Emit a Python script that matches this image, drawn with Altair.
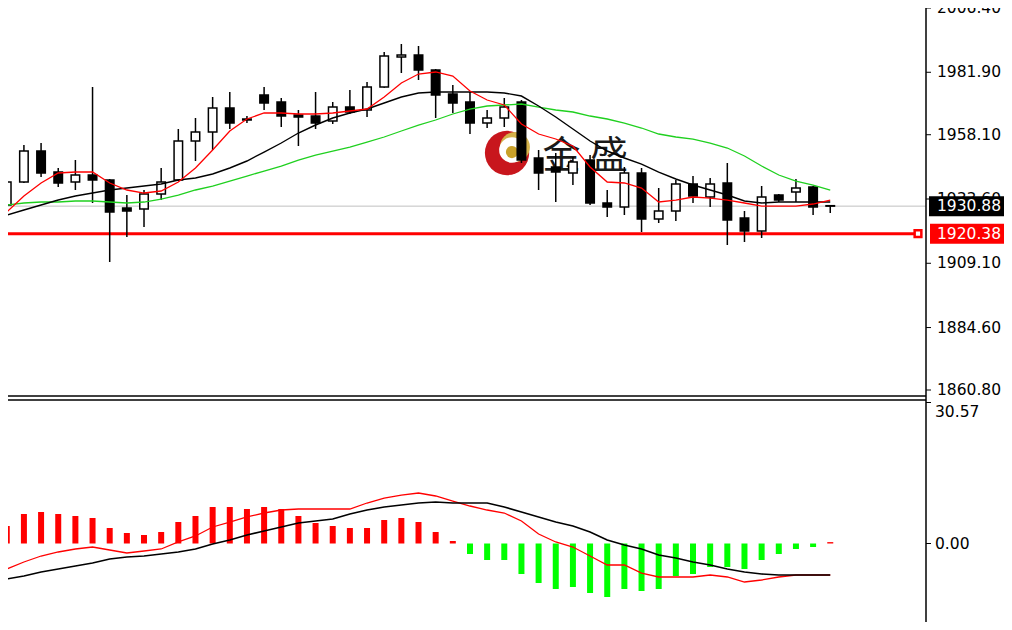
import altair as alt
import pandas as pd

# ---------------- data ----------------
idx = list(range(49))

opens = [1931.31, 1940.08, 1951.90, 1943.89, 1940.08, 1942.75, 1940.84, 1930.17, 1929.79, 1935.51,
         1940.84, 1955.71, 1959.14, 1968.29, 1964.09, 1973.24, 1970.57, 1965.62, 1965.24, 1963.33,
         1968.67, 1967.52, 1976.29, 1987.73, 1988.49, 1982.77, 1973.62, 1970.57, 1962.57, 1964.48,
         1970.57, 1949.23, 1945.80, 1943.51, 1948.47, 1932.08, 1930.55, 1943.51, 1925.98, 1929.03,
         1939.32, 1934.36, 1939.70, 1926.36, 1921.40, 1935.13, 1936.27, 1938.18, 1931.05]
highs = [1946.18, 1954.18, 1954.95, 1945.42, 1948.47, 1976.29, 1941.22, 1935.13, 1937.03, 1945.42,
         1960.28, 1964.48, 1972.48, 1974.39, 1965.24, 1976.29, 1972.10, 1967.52, 1974.39, 1970.57,
         1975.15, 1978.20, 1989.63, 1992.68, 1991.92, 1983.15, 1977.05, 1974.39, 1967.52, 1972.10,
         1971.34, 1952.28, 1951.13, 1949.61, 1950.37, 1937.03, 1945.80, 1945.42, 1937.79, 1940.84,
         1942.37, 1941.61, 1947.32, 1929.03, 1938.56, 1935.51, 1941.22, 1938.56, 1931.31]
lows = [1927.50, 1939.70, 1941.99, 1938.18, 1937.03, 1932.08, 1909.59, 1919.12, 1922.93, 1933.22,
        1940.46, 1948.09, 1952.28, 1960.28, 1962.57, 1967.52, 1961.05, 1953.80, 1960.28, 1962.19,
        1966.00, 1964.86, 1976.00, 1981.63, 1978.96, 1964.48, 1966.38, 1958.38, 1960.66, 1961.05,
        1947.32, 1937.03, 1932.46, 1938.94, 1931.31, 1926.74, 1927.50, 1921.02, 1924.45, 1925.22,
        1932.08, 1930.55, 1916.07, 1917.21, 1918.74, 1932.46, 1932.46, 1927.50, 1928.27]
closes = [1940.08, 1951.90, 1943.51, 1939.70, 1942.75, 1940.84, 1928.65, 1929.03, 1935.51, 1940.08,
          1955.71, 1959.14, 1968.29, 1962.57, 1963.71, 1970.19, 1965.24, 1964.86, 1962.57, 1968.67,
          1966.76, 1976.29, 1988.11, 1988.49, 1982.77, 1973.24, 1970.19, 1962.57, 1964.48, 1968.67,
          1948.47, 1943.51, 1943.89, 1947.70, 1932.08, 1930.55, 1943.51, 1925.98, 1929.03, 1939.32,
          1934.74, 1939.32, 1925.60, 1921.40, 1934.36, 1933.22, 1937.79, 1930.55, 1930.88]

ma_red = [1928.64, 1934.74, 1939.70, 1943.51, 1943.89, 1943.89, 1939.70, 1937.03, 1935.88, 1936.65,
          1940.08, 1945.41, 1952.27, 1959.52, 1964.09, 1966.38, 1966.38, 1966.00, 1966.00, 1966.38,
          1967.14, 1967.90, 1972.48, 1977.81, 1981.24, 1982.01, 1980.48, 1974.76, 1971.33, 1969.43,
          1962.18, 1958.37, 1956.47, 1953.80, 1945.79, 1940.08, 1939.70, 1937.78, 1932.45, 1933.21,
          1934.36, 1933.97, 1933.21, 1932.07, 1930.92, 1930.92, 1930.92, 1931.69, 1933.21]
ma_black = [1927.49, 1929.40, 1931.30, 1933.21, 1934.74, 1935.88, 1937.03, 1937.78, 1938.55, 1939.31,
            1940.83, 1941.60, 1943.12, 1945.41, 1948.08, 1951.51, 1954.94, 1958.75, 1961.80, 1964.47,
            1966.38, 1967.90, 1970.19, 1972.48, 1974.00, 1974.38, 1974.38, 1974.38, 1974.38, 1974.00,
            1972.85, 1969.04, 1964.85, 1960.28, 1955.70, 1951.89, 1949.22, 1946.93, 1943.88, 1941.22,
            1938.93, 1937.03, 1935.12, 1932.83, 1932.07, 1932.45, 1932.45, 1932.45, 1932.45]
ma_green = [1931.30, 1932.07, 1932.45, 1932.45, 1932.83, 1932.83, 1932.45, 1932.07, 1932.45, 1933.59,
            1935.12, 1937.03, 1938.55, 1940.45, 1942.36, 1944.26, 1946.17, 1948.46, 1950.36, 1951.89,
            1953.41, 1955.32, 1957.23, 1959.52, 1961.80, 1963.71, 1966.00, 1967.90, 1969.04, 1969.43,
            1969.81, 1968.66, 1967.52, 1966.76, 1965.23, 1964.09, 1962.56, 1960.66, 1958.37, 1957.23,
            1956.46, 1954.94, 1953.03, 1949.98, 1946.17, 1942.74, 1940.45, 1938.93, 1937.03]

hist = [3.79, 6.40, 6.83, 6.40, 5.96, 5.53, 3.36, 2.28, 1.84, 2.49,
        4.66, 5.96, 7.91, 7.91, 7.48, 7.91, 7.48, 5.96, 4.44, 3.79,
        3.36, 3.36, 5.09, 5.53, 4.66, 2.49, 0.54, -2.28, -3.58, -3.58,
        -6.61, -8.56, -9.86, -9.43, -10.73, -11.60, -9.86, -10.30, -9.86, -7.05,
        -6.61, -5.09, -5.09, -5.53, -3.58, -2.28, -1.19, -0.76, 0.30]
macd_red = [-5.53, -4.01, -2.71, -1.84, -1.19, -0.76, -1.41, -2.06, -1.63, -1.19,
            0.33, 1.63, 3.58, 4.66, 5.75, 6.61, 7.26, 7.48, 7.48, 7.48,
            7.48, 8.78, 9.86, 10.51, 10.95, 10.30, 9.21, 8.13, 7.26, 6.61,
            4.88, 2.06, 0.33, -0.76, -2.71, -4.66, -4.66, -6.40, -7.26, -7.26,
            -7.26, -6.83, -7.26, -8.35, -7.91, -7.26, -6.83, -6.83, -6.83]
macd_black = [-7.70, -7.05, -6.18, -5.53, -4.88, -4.23, -3.36, -2.93, -2.71, -2.28,
              -1.84, -1.19, -0.11, 0.76, 1.84, 2.71, 3.58, 4.44, 4.88, 5.31,
              6.40, 7.26, 7.91, 8.35, 8.78, 9.00, 8.78, 8.78, 8.78, 7.91,
              6.83, 5.75, 4.66, 3.79, 2.49, 0.76, -0.33, -1.19, -2.49, -3.14,
              -4.01, -4.66, -5.53, -6.18, -6.61, -6.83, -6.83, -6.83, -6.83]

price_ticks = [2006.40, 1981.90, 1958.10, 1933.60, 1909.10, 1884.60, 1860.80]
price_tick_labels = ["2006.40", "1981.90", "1958.10", "1933.60", "1909.10", "1884.60", "1860.80"]
macd_top = [30.57]
macd_top_label = ["30.57"]
macd_zero = [0.00]
macd_zero_label = ["0.00"]
bid_price = 1930.88
level_price = 1920.38

# watermark (logo + brand text) placed in data space
logo_i = [29.16, 29.62, 29.45, 29.45]
logo_p = [1951.13, 1953.41, 1952.27, 1951.51]
logo_size = [1960, 900, 660, 150]
logo_color = ["#c8161d", "#d4b24a", "#ffffff", "#c9a12a"]
brand_i = [32.33, 35.10]
brand_p = [1949.6, 1949.6]
brand_text = ["金", "盛"]

# ---------------- layout ----------------
W, H = 996, 614
AXX = 918          # right axis line (plot px)
LBLX = 929
FONT = "DejaVu Sans"
FS = 15.5

XS = alt.Scale(domain=[0.3635, 57.836], range=[0, W], nice=False, zero=False)
PS = alt.Scale(domain=[1860.80, 2006.40], range=[382, 0], nice=False, zero=False)
MS = alt.Scale(domain=[0.0, 30.57], range=[535.5, 394.5], nice=False, zero=False)


def px(f):
    return alt.X(f, type="quantitative", scale=XS, axis=None)


def py(f, s):
    return alt.Y(f, type="quantitative", scale=s, axis=None)


cdf = pd.DataFrame({"i": idx, "o": opens, "h": highs, "l": lows, "c": closes})
cdf["fill"] = ["white" if c > o else "black" for o, c in zip(opens, closes)]
mad = pd.DataFrame({"i": idx, "r": ma_red, "k": ma_black, "g": ma_green})
mdf = pd.DataFrame({"i": idx, "h": hist, "r": macd_red, "k": macd_black})
mdf["base"] = 0.0
mdf["fill"] = ["#ff0000" if v > 0 else "#00ff00" for v in hist]
lv = pd.DataFrame({"p": [bid_price], "lvl": [level_price],
                   "pt": [f"{bid_price:.2f}"], "lt": [f"{level_price:.2f}"]})
pt = pd.DataFrame({"v": price_ticks, "t": price_tick_labels})
mt_top = pd.DataFrame({"v": macd_top, "t": macd_top_label})
mt_zero = pd.DataFrame({"v": macd_zero, "t": macd_zero_label})
one = pd.DataFrame({"a": [0]})
logo = pd.DataFrame({"i": logo_i, "p": logo_p, "s": logo_size, "c": logo_color})
brand = pd.DataFrame({"i": brand_i, "p": brand_p, "t": brand_text})

layers = []

# reference lines (behind candles)
layers.append(alt.Chart(lv).mark_rule(color="#c0c0c0", strokeWidth=1).encode(
    x=alt.value(0), x2=alt.value(AXX), y=py("p", PS)))
layers.append(alt.Chart(lv).mark_rule(color="#ff0000", strokeWidth=3).encode(
    x=alt.value(0), x2=alt.value(906), y=py("lvl", PS)))

# watermark
layers.append(alt.Chart(logo).mark_circle(opacity=1).encode(
    x=px("i"), y=py("p", PS), size=alt.Size("s:Q", scale=None),
    color=alt.Color("c:N", scale=None)))
layers.append(alt.Chart(brand).mark_text(font="Noto Sans CJK SC", fontSize=38, color="#1a1a1a",
                                         align="center", baseline="middle").encode(
    x=px("i"), y=py("p", PS), text="t:N"))

# candles
layers.append(alt.Chart(cdf).mark_rule(color="black", strokeWidth=1.5).encode(
    x=px("i"), y=py("l", PS), y2=alt.Y2("h")))
layers.append(alt.Chart(cdf).mark_bar(width=8.5, stroke="black", strokeWidth=1.5).encode(
    x=px("i"), y=py("o", PS), y2=alt.Y2("c"), fill=alt.Fill("fill:N", scale=None)))

# moving averages
layers.append(alt.Chart(mad).mark_line(color="#1fd01f", strokeWidth=1.3).encode(
    x=px("i"), y=py("g", PS)))
layers.append(alt.Chart(mad).mark_line(color="black", strokeWidth=1.4).encode(
    x=px("i"), y=py("k", PS)))
layers.append(alt.Chart(mad).mark_line(color="#ff0000", strokeWidth=1.3).encode(
    x=px("i"), y=py("r", PS)))

# level marker
layers.append(alt.Chart(lv).mark_point(shape="square", filled=True, fill="white", stroke="#ff0000",
                                       strokeWidth=2.5, size=45, opacity=1).encode(
    x=alt.value(910), y=py("lvl", PS)))

# MACD histogram + lines
layers.append(alt.Chart(mdf).mark_bar(width=6).encode(
    x=px("i"), y=py("h", MS), y2=alt.Y2("base"), fill=alt.Fill("fill:N", scale=None)))
layers.append(alt.Chart(mdf).mark_line(color="#ff0000", strokeWidth=1.3).encode(
    x=px("i"), y=py("r", MS)))
layers.append(alt.Chart(mdf).mark_line(color="black", strokeWidth=1.6).encode(
    x=px("i"), y=py("k", MS)))

# frames and axis line
layers.append(alt.Chart(one).mark_rule(color="black", strokeWidth=1.5).encode(
    x=alt.value(0), x2=alt.value(AXX), y=alt.value(388)))
layers.append(alt.Chart(one).mark_rule(color="black", strokeWidth=1.5).encode(
    x=alt.value(0), x2=alt.value(AXX), y=alt.value(392)))
layers.append(alt.Chart(one).mark_rule(color="black", strokeWidth=1.5).encode(
    x=alt.value(AXX), y=alt.value(0), y2=alt.value(H)))

# price axis ticks and labels
layers.append(alt.Chart(pt).mark_rule(color="black", strokeWidth=1).encode(
    x=alt.value(AXX), x2=alt.value(AXX + 5), y=py("v", PS)))
layers.append(alt.Chart(pt).mark_text(align="left", baseline="middle", font=FONT, fontSize=FS,
                                      color="black").encode(
    x=alt.value(LBLX), y=py("v", PS), text="t:N"))

# current price and level boxes
layers.append(alt.Chart(lv).mark_rule(color="black", strokeWidth=20, strokeCap="butt").encode(
    x=alt.value(921), x2=alt.value(W), y=py("p", PS)))
layers.append(alt.Chart(lv).mark_text(align="left", baseline="middle", font=FONT, fontSize=FS,
                                      color="white").encode(
    x=alt.value(LBLX), y=py("p", PS), text="pt:N"))
layers.append(alt.Chart(lv).mark_rule(color="#ff0000", strokeWidth=20, strokeCap="butt").encode(
    x=alt.value(922), x2=alt.value(W), y=py("lvl", PS)))
layers.append(alt.Chart(lv).mark_text(align="left", baseline="middle", font=FONT, fontSize=FS,
                                      color="white").encode(
    x=alt.value(LBLX), y=py("lvl", PS), text="lt:N"))

# MACD axis ticks and labels
layers.append(alt.Chart(mt_top).mark_rule(color="black", strokeWidth=1).encode(
    x=alt.value(AXX), x2=alt.value(AXX + 5), y=py("v", MS)))
layers.append(alt.Chart(mt_zero).mark_rule(color="black", strokeWidth=1).encode(
    x=alt.value(AXX), x2=alt.value(AXX + 5), y=py("v", MS)))
layers.append(alt.Chart(mt_top).mark_text(align="left", baseline="top", dy=2, font=FONT,
                                          fontSize=FS, color="black").encode(
    x=alt.value(LBLX - 2), y=py("v", MS), text="t:N"))
layers.append(alt.Chart(mt_zero).mark_text(align="left", baseline="middle", font=FONT,
                                           fontSize=FS, color="black").encode(
    x=alt.value(LBLX - 2), y=py("v", MS), text="t:N"))

chart = alt.layer(*layers).resolve_scale(y="independent").properties(
    width=W, height=H, autosize=alt.AutoSizeParams(type="none"), padding=0,
    background="white").configure_view(stroke="transparent")

chart.save("out.html", embed_options={"renderer": "svg", "actions": False})
